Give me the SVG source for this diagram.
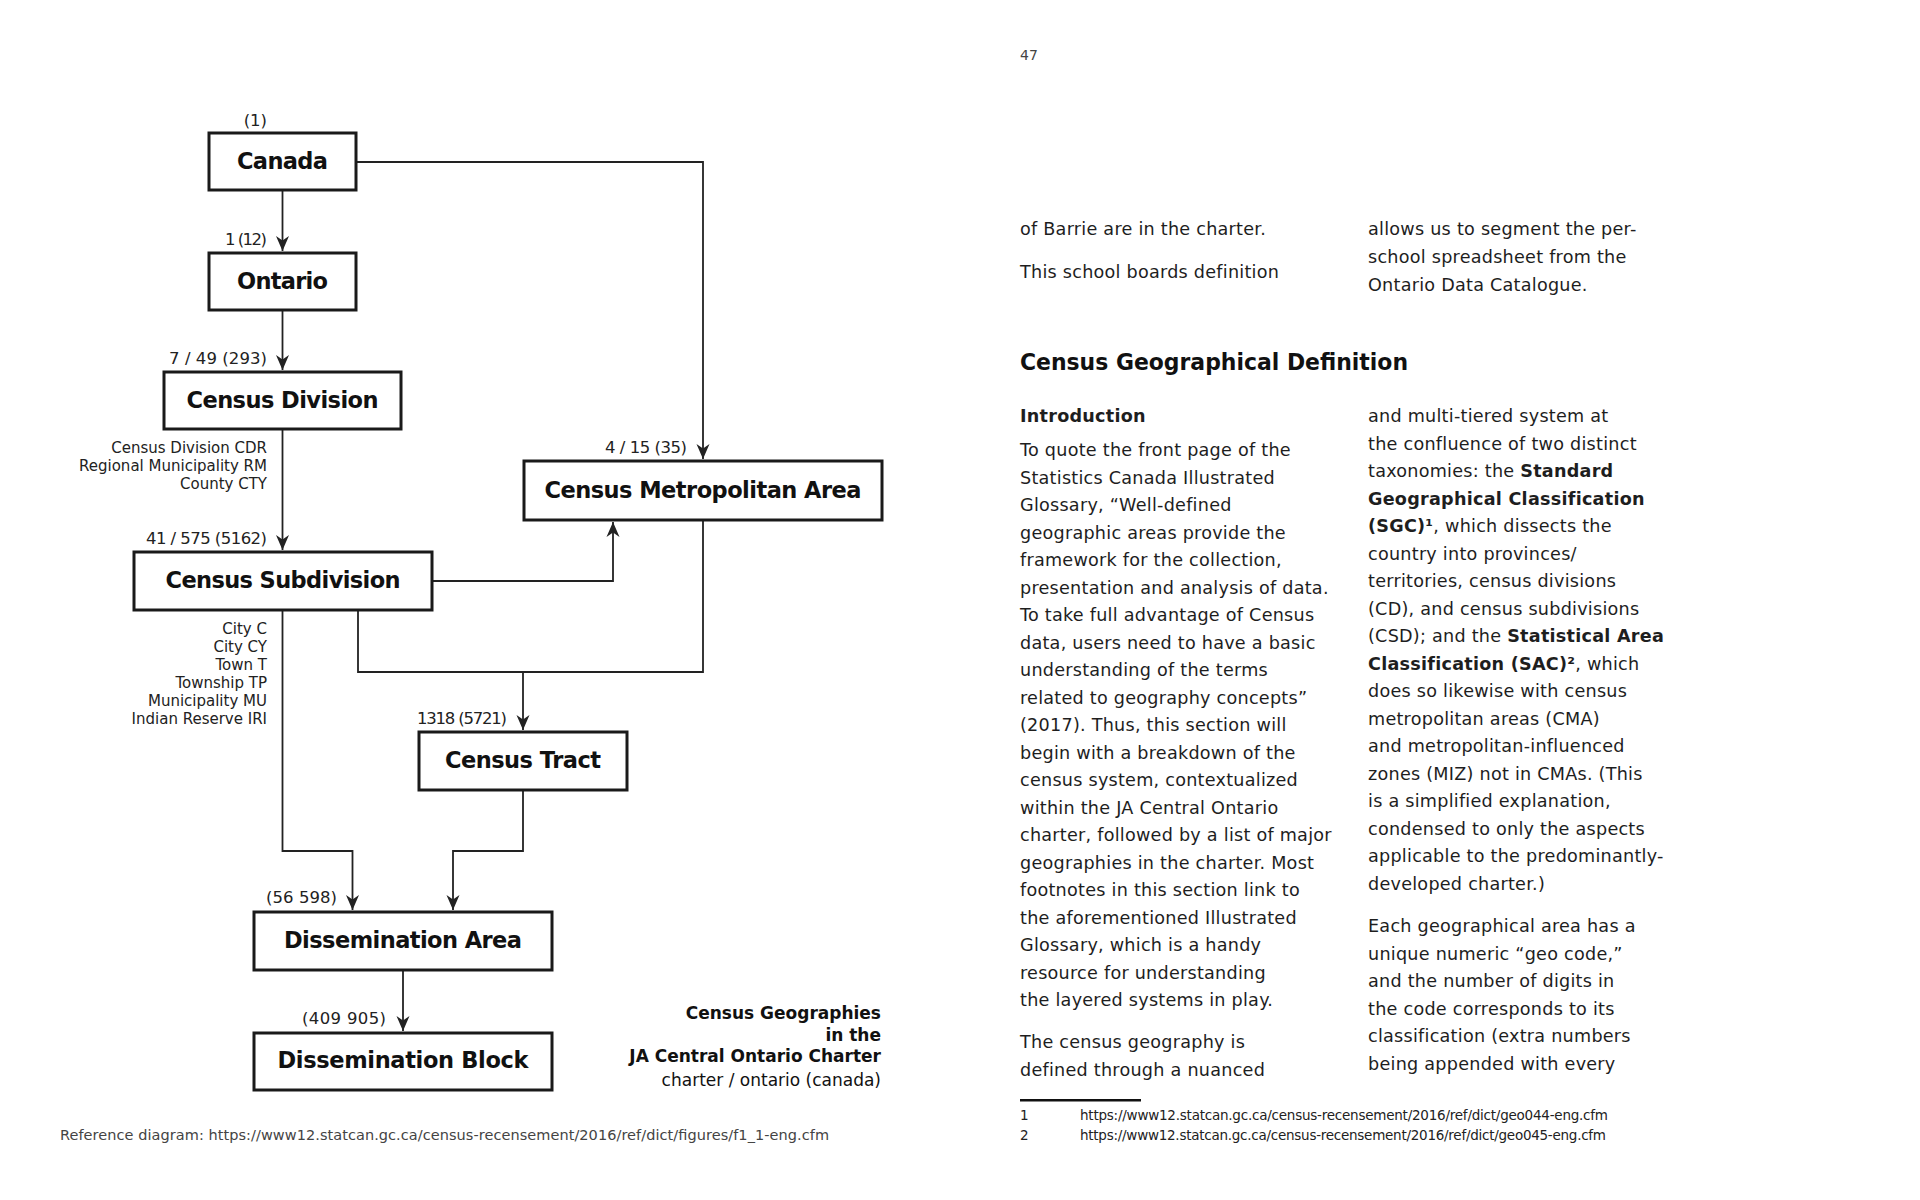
<svg xmlns="http://www.w3.org/2000/svg" width="1920" height="1200" viewBox="0 0 1920 1200">
<style>
.box{fill:#fff;stroke:#1a1a1a;stroke-width:3}
.nl{font-family:"DejaVu Sans",sans-serif;font-weight:bold;font-size:22.5px;fill:#111;text-anchor:middle}
.num{font-family:"DejaVu Sans",sans-serif;font-size:16.5px;fill:#222;text-anchor:end}
.sm{font-family:"DejaVu Sans",sans-serif;font-size:15px;fill:#222;text-anchor:end}
.con{fill:none;stroke:#222;stroke-width:1.8}
.body{font-family:"DejaVu Sans",sans-serif;font-size:17.6px;letter-spacing:0.25px;fill:#1e1e1e}
.b{font-weight:bold}
.cap{font-family:"DejaVu Sans",sans-serif;font-size:17px;fill:#111;text-anchor:end}
.fn{font-family:"DejaVu Sans",sans-serif;font-size:13.5px;fill:#222}
</style>
<defs>
<marker id="arr" markerWidth="17" markerHeight="15" refX="15" refY="7.5" orient="auto" markerUnits="userSpaceOnUse" viewBox="0 0 17 15"><path d="M0,1 L15,7.5 L0,14 L4.5,7.5 Z" fill="#222"/></marker>
</defs>
<rect x="0" y="0" width="1920" height="1200" fill="#fff"/>

<g id="connectors">
<path class="con" d="M282.5,190 V251" marker-end="url(#arr)"/>
<path class="con" d="M282.5,310 V370" marker-end="url(#arr)"/>
<path class="con" d="M356,162 H703 V459" marker-end="url(#arr)"/>
<path class="con" d="M282.5,429 V550" marker-end="url(#arr)"/>
<path class="con" d="M432,581 H613 V522" marker-end="url(#arr)"/>
<path class="con" d="M358,610 V672 H703 V520"/>
<path class="con" d="M523,672 V730" marker-end="url(#arr)"/>
<path class="con" d="M282.5,610 V851 H352.5 V910" marker-end="url(#arr)"/>
<path class="con" d="M523,790 V851 H453 V910" marker-end="url(#arr)"/>
<path class="con" d="M403,970 V1031" marker-end="url(#arr)"/>
</g>

<g id="canada">
<rect class="box" x="209" y="133" width="147" height="57"/>
<text class="nl" x="282.5" y="169" textLength="91">Canada</text>
<text class="num" x="267" y="126">(1)</text>
</g>
<g id="ontario">
<rect class="box" x="209" y="253" width="147" height="57"/>
<text class="nl" x="282.5" y="289" textLength="91">Ontario</text>
<text class="num" x="267" y="245" textLength="42">1 (12)</text>
</g>
<g id="census-division">
<rect class="box" x="164" y="372" width="237" height="57"/>
<text class="nl" x="282.5" y="408" textLength="192">Census Division</text>
<text class="num" x="267" y="364" textLength="98">7 / 49 (293)</text>
<text class="sm" x="267" y="453">Census Division CDR</text>
<text class="sm" x="267" y="471">Regional Municipality RM</text>
<text class="sm" x="267" y="489">County CTY</text>
</g>
<g id="census-metropolitan-area">
<rect class="box" x="524" y="461" width="358" height="59"/>
<text class="nl" x="703" y="498" textLength="317">Census Metropolitan Area</text>
<text class="num" x="687" y="453" textLength="82">4 / 15 (35)</text>
</g>
<g id="census-subdivision">
<rect class="box" x="134" y="552" width="298" height="58"/>
<text class="nl" x="283" y="588" textLength="235">Census Subdivision</text>
<text class="num" x="267" y="544" textLength="121">41 / 575 (5162)</text>
<text class="sm" x="267" y="634">City C</text>
<text class="sm" x="267" y="652">City CY</text>
<text class="sm" x="267" y="670">Town T</text>
<text class="sm" x="267" y="688">Township TP</text>
<text class="sm" x="267" y="706">Municipality MU</text>
<text class="sm" x="267" y="724">Indian Reserve IRI</text>
</g>
<g id="census-tract">
<rect class="box" x="419" y="732" width="208" height="58"/>
<text class="nl" x="523" y="768" textLength="156">Census Tract</text>
<text class="num" x="507" y="724" textLength="90">1318 (5721)</text>
</g>
<g id="dissemination-area">
<rect class="box" x="254" y="912" width="298" height="58"/>
<text class="nl" x="403" y="948" textLength="238">Dissemination Area</text>
<text class="num" x="337" y="903" textLength="71">(56 598)</text>
</g>
<g id="dissemination-block">
<rect class="box" x="254" y="1033" width="298" height="57"/>
<text class="nl" x="403" y="1068" textLength="251">Dissemination Block</text>
<text class="num" x="386" y="1024" textLength="84">(409 905)</text>
</g>

<g id="caption">
<text class="cap b" x="881" y="1019">Census Geographies</text>
<text class="cap b" x="881" y="1041">in the</text>
<text class="cap b" x="881" y="1062">JA Central Ontario Charter</text>
<text class="cap" x="881" y="1086">charter / ontario (canada)</text>
</g>
<text x="60" y="1140" font-family="DejaVu Sans, sans-serif" font-size="14.5" fill="#444" textLength="769">Reference diagram: https://www12.statcan.gc.ca/census-recensement/2016/ref/dict/figures/f1_1-eng.cfm</text>

<g id="page-text">
<text x="1020" y="60" font-family="DejaVu Sans, sans-serif" font-size="14" fill="#444">47</text>
<text class="body" x="1020" y="235">of Barrie are in the charter.</text>
<text class="body" x="1020" y="278">This school boards definition</text>
<text class="body" x="1368" y="235">allows us to segment the per-</text>
<text class="body" x="1368" y="263">school spreadsheet from the</text>
<text class="body" x="1368" y="291">Ontario Data Catalogue.</text>
<text x="1020" y="370" font-family="DejaVu Sans, sans-serif" font-weight="bold" font-size="22.5" fill="#111" textLength="388" lengthAdjust="spacingAndGlyphs">Census Geographical Definition</text>
<text class="body b" x="1020" y="422">Introduction</text>
<text class="body" x="1020" y="456">To quote the front page of the</text>
<text class="body" x="1020" y="483.5">Statistics Canada Illustrated</text>
<text class="body" x="1020" y="511">Glossary, “Well-defined</text>
<text class="body" x="1020" y="538.5">geographic areas provide the</text>
<text class="body" x="1020" y="566">framework for the collection,</text>
<text class="body" x="1020" y="593.5">presentation and analysis of data.</text>
<text class="body" x="1020" y="621">To take full advantage of Census</text>
<text class="body" x="1020" y="648.5">data, users need to have a basic</text>
<text class="body" x="1020" y="676">understanding of the terms</text>
<text class="body" x="1020" y="703.5">related to geography concepts”</text>
<text class="body" x="1020" y="731">(2017). Thus, this section will</text>
<text class="body" x="1020" y="758.5">begin with a breakdown of the</text>
<text class="body" x="1020" y="786">census system, contextualized</text>
<text class="body" x="1020" y="813.5">within the JA Central Ontario</text>
<text class="body" x="1020" y="841">charter, followed by a list of major</text>
<text class="body" x="1020" y="868.5">geographies in the charter. Most</text>
<text class="body" x="1020" y="896">footnotes in this section link to</text>
<text class="body" x="1020" y="923.5">the aforementioned Illustrated</text>
<text class="body" x="1020" y="951">Glossary, which is a handy</text>
<text class="body" x="1020" y="978.5">resource for understanding</text>
<text class="body" x="1020" y="1006">the layered systems in play.</text>
<text class="body" x="1020" y="1048">The census geography is</text>
<text class="body" x="1020" y="1075.5">defined through a nuanced</text>

<text class="body" x="1368" y="422">and multi-tiered system at</text>
<text class="body" x="1368" y="449.5">the confluence of two distinct</text>
<text class="body" x="1368" y="477">taxonomies: the <tspan class="b">Standard</tspan></text>
<text class="body b" x="1368" y="504.5">Geographical Classification</text>
<text class="body" x="1368" y="532"><tspan class="b">(SGC)¹</tspan>, which dissects the</text>
<text class="body" x="1368" y="559.5">country into provinces/</text>
<text class="body" x="1368" y="587">territories, census divisions</text>
<text class="body" x="1368" y="614.5">(CD), and census subdivisions</text>
<text class="body" x="1368" y="642">(CSD); and the <tspan class="b">Statistical Area</tspan></text>
<text class="body" x="1368" y="669.5"><tspan class="b">Classification (SAC)²</tspan>, which</text>
<text class="body" x="1368" y="697">does so likewise with census</text>
<text class="body" x="1368" y="724.5">metropolitan areas (CMA)</text>
<text class="body" x="1368" y="752">and metropolitan-influenced</text>
<text class="body" x="1368" y="779.5">zones (MIZ) not in CMAs. (This</text>
<text class="body" x="1368" y="807">is a simplified explanation,</text>
<text class="body" x="1368" y="834.5">condensed to only the aspects</text>
<text class="body" x="1368" y="862">applicable to the predominantly-</text>
<text class="body" x="1368" y="889.5">developed charter.)</text>
<text class="body" x="1368" y="932">Each geographical area has a</text>
<text class="body" x="1368" y="959.5">unique numeric “geo code,”</text>
<text class="body" x="1368" y="987">and the number of digits in</text>
<text class="body" x="1368" y="1014.5">the code corresponds to its</text>
<text class="body" x="1368" y="1042">classification (extra numbers</text>
<text class="body" x="1368" y="1069.5">being appended with every</text>

<rect x="1020" y="1099" width="121" height="2.5" fill="#111"/>
<text class="fn" x="1020" y="1120">1</text>
<text class="fn" x="1080" y="1120" textLength="528">https://www12.statcan.gc.ca/census-recensement/2016/ref/dict/geo044-eng.cfm</text>
<text class="fn" x="1020" y="1140">2</text>
<text class="fn" x="1080" y="1140" textLength="526">https://www12.statcan.gc.ca/census-recensement/2016/ref/dict/geo045-eng.cfm</text>
</g>
</svg>
